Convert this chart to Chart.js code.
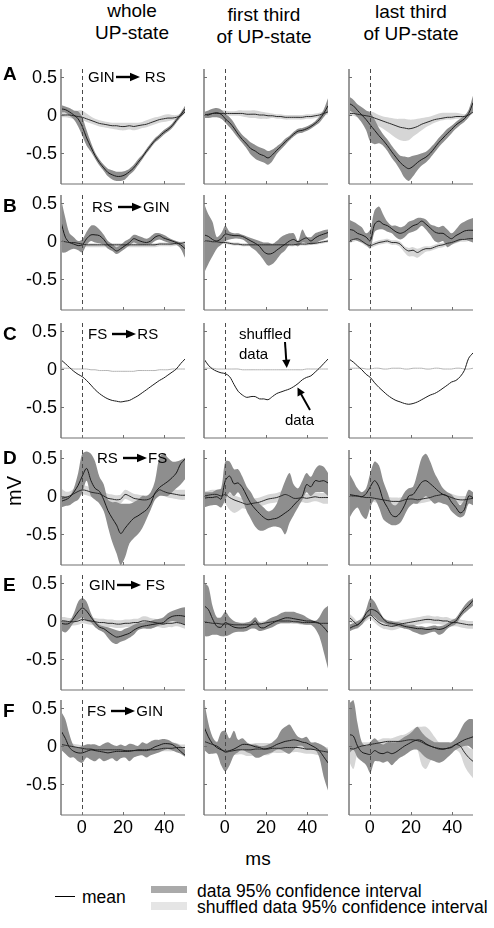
<!DOCTYPE html>
<html>
<head>
<meta charset="utf-8">
<script src="https://cdn.jsdelivr.net/npm/chart.js@4/dist/chart.umd.min.js"></script>
<style>
  html, body { margin:0; padding:0; background:#fff; }
  body { width:494px; height:928px; position:relative; overflow:hidden; font-family:"Liberation Sans", Arial, sans-serif; color:#000; }
  canvas { position:absolute; }
  .t { position:absolute; white-space:nowrap; z-index:5; }
  .hdr { font-size:19px; line-height:22px; text-align:center; transform:translateX(-50%); }
  .let { font-size:19px; font-weight:bold; line-height:22px; }
  .pair { font-size:15px; line-height:18px; }
  .pair svg { vertical-align:middle; margin:0 1px 2px 1px; }
  .leg { font-size:17.5px; line-height:20px; }
</style>
</head>
<body>
<script>
// ---------- categories / ticks ----------
const timeMs = [-10,-7.9,-5.9,-3.8,-1.7,0.3,2.4,4.5,6.5,8.6,10.7,12.7,14.8,16.9,18.9,21.0,23.1,25.2,27.2,29.3,31.4,33.4,35.5,37.6,39.6,41.7,43.8,45.8,47.9,50.0];
const xTicks = [0, 20, 40];
const yTicks = [0.5, 0, -0.5];
const yTickLabels = ['0.5', '0', '-0.5'];
const rowLetters = ['A','B','C','D','E','F'];
const pairFrom = ['GIN','RS','FS','RS','GIN','FS'];
const pairTo = ['RS','GIN','RS','FS','FS','GIN'];
const colTitles = [['whole','UP-state'],['first third','of UP-state'],['last third','of UP-state']];

// ---------- Row A: GIN -> RS ----------
const A1_mean = [0.08,0.07,0.04,0.0,-0.05,-0.15,-0.3,-0.42,-0.53,-0.62,-0.69,-0.75,-0.78,-0.8,-0.8,-0.78,-0.74,-0.69,-0.62,-0.55,-0.47,-0.4,-0.33,-0.28,-0.23,-0.19,-0.14,-0.07,0.0,0.08];
const A1_hi = [0.13,0.11,0.09,0.06,0.05,-0.03,-0.2,-0.36,-0.49,-0.58,-0.65,-0.7,-0.72,-0.74,-0.74,-0.73,-0.7,-0.65,-0.58,-0.52,-0.44,-0.37,-0.3,-0.25,-0.2,-0.16,-0.11,-0.04,0.03,0.12];
const A1_lo = [0.03,0.03,-0.01,-0.06,-0.15,-0.27,-0.4,-0.48,-0.57,-0.66,-0.73,-0.8,-0.84,-0.86,-0.86,-0.84,-0.78,-0.73,-0.66,-0.58,-0.5,-0.43,-0.36,-0.31,-0.26,-0.22,-0.17,-0.1,-0.03,0.04];
const A1_shuf = [0.0,0.0,0.0,-0.01,-0.02,-0.03,-0.05,-0.07,-0.09,-0.11,-0.12,-0.13,-0.14,-0.14,-0.15,-0.15,-0.14,-0.15,-0.14,-0.13,-0.12,-0.1,-0.08,-0.06,-0.05,-0.04,-0.04,-0.03,-0.01,0.04];
const A1_shufHi = [0.03,0.03,0.04,0.04,0.06,0.06,0.02,-0.02,-0.05,-0.07,-0.08,-0.09,-0.1,-0.1,-0.1,-0.1,-0.1,-0.1,-0.1,-0.09,-0.07,-0.05,-0.03,-0.02,0.0,0.01,0.0,0.0,0.02,0.06];
const A1_shufLo = [-0.03,-0.03,-0.04,-0.05,-0.06,-0.07,-0.09,-0.11,-0.13,-0.15,-0.16,-0.17,-0.18,-0.19,-0.2,-0.2,-0.19,-0.2,-0.19,-0.17,-0.16,-0.14,-0.12,-0.1,-0.09,-0.08,-0.07,-0.06,-0.03,0.02];

const A2_mean = [0.0,0.0,0.02,0.03,0.01,-0.05,-0.1,-0.17,-0.25,-0.32,-0.38,-0.44,-0.47,-0.51,-0.53,-0.56,-0.52,-0.46,-0.41,-0.35,-0.3,-0.25,-0.21,-0.2,-0.18,-0.15,-0.11,-0.06,0.02,0.12];
const A2_hi = [0.04,0.06,0.08,0.09,0.07,0.02,-0.03,-0.1,-0.19,-0.26,-0.31,-0.36,-0.39,-0.42,-0.44,-0.47,-0.45,-0.41,-0.37,-0.31,-0.27,-0.22,-0.18,-0.17,-0.15,-0.12,-0.08,-0.02,0.07,0.22];
const A2_lo = [-0.04,-0.04,-0.03,-0.03,-0.05,-0.1,-0.16,-0.23,-0.3,-0.37,-0.44,-0.52,-0.57,-0.6,-0.62,-0.65,-0.6,-0.51,-0.45,-0.39,-0.33,-0.28,-0.24,-0.23,-0.21,-0.18,-0.14,-0.1,-0.03,0.05];
const A2_shuf = [0.0,0.01,0.02,0.02,0.02,0.02,0.02,0.02,0.02,0.02,0.01,0.01,0.01,0.0,0.0,-0.01,-0.01,-0.02,-0.02,-0.03,-0.03,-0.03,-0.03,-0.03,-0.02,-0.02,-0.01,0.0,0.02,0.04];
const A2_shufHi = [0.03,0.04,0.05,0.05,0.06,0.06,0.05,0.05,0.06,0.06,0.06,0.06,0.06,0.05,0.04,0.03,0.02,0.01,0.01,0.0,0.0,0.0,0.0,0.0,0.01,0.01,0.02,0.03,0.05,0.07];
const A2_shufLo = [-0.03,-0.02,-0.01,-0.01,-0.01,-0.01,-0.01,-0.01,-0.01,-0.02,-0.03,-0.04,-0.04,-0.05,-0.05,-0.05,-0.04,-0.05,-0.05,-0.06,-0.06,-0.06,-0.06,-0.06,-0.05,-0.05,-0.04,-0.03,-0.01,0.01];

const A3_mean = [0.15,0.12,0.06,0.0,-0.06,-0.13,-0.2,-0.27,-0.33,-0.4,-0.48,-0.55,-0.62,-0.67,-0.7,-0.67,-0.62,-0.58,-0.55,-0.5,-0.43,-0.36,-0.3,-0.24,-0.19,-0.13,-0.09,-0.05,0.02,0.16];
const A3_hi = [0.24,0.2,0.14,0.1,0.06,0.03,-0.06,-0.17,-0.25,-0.32,-0.4,-0.47,-0.53,-0.54,-0.55,-0.53,-0.52,-0.5,-0.48,-0.43,-0.37,-0.3,-0.24,-0.18,-0.14,-0.09,-0.05,-0.01,0.07,0.25];
const A3_lo = [0.06,0.03,-0.03,-0.1,-0.2,-0.35,-0.38,-0.37,-0.4,-0.47,-0.56,-0.63,-0.72,-0.82,-0.86,-0.8,-0.72,-0.66,-0.62,-0.56,-0.49,-0.42,-0.36,-0.3,-0.24,-0.18,-0.13,-0.09,-0.03,0.06];
const A3_shuf = [0.02,0.02,0.01,0.0,-0.01,-0.02,-0.04,-0.06,-0.08,-0.1,-0.12,-0.14,-0.16,-0.17,-0.18,-0.17,-0.15,-0.12,-0.1,-0.08,-0.06,-0.05,-0.04,-0.03,-0.03,-0.02,-0.02,-0.02,0.0,0.04];
const A3_shufHi = [0.05,0.05,0.05,0.05,0.05,0.05,0.03,0.0,-0.02,-0.03,-0.04,-0.05,-0.05,-0.05,-0.06,-0.06,-0.05,-0.04,-0.03,-0.02,0.0,0.02,0.03,0.03,0.03,0.03,0.02,0.01,0.02,0.06];
const A3_shufLo = [-0.01,-0.01,-0.03,-0.05,-0.07,-0.09,-0.12,-0.15,-0.18,-0.22,-0.26,-0.3,-0.33,-0.34,-0.33,-0.28,-0.24,-0.2,-0.16,-0.13,-0.1,-0.08,-0.07,-0.06,-0.06,-0.05,-0.05,-0.04,-0.02,0.02];

// ---------- Row B: RS -> GIN ----------
const B1_mean = [0.25,0.05,-0.02,-0.04,-0.06,-0.05,0.03,0.08,0.08,0.07,0.02,-0.05,-0.09,-0.13,-0.1,-0.06,-0.02,0.03,0.01,-0.01,-0.02,0.0,0.05,0.07,0.04,0.02,0.0,-0.02,-0.05,-0.1];
const B1_hi = [0.55,0.3,0.1,0.05,0.0,0.02,0.12,0.2,0.2,0.15,0.08,0.0,-0.04,-0.08,-0.05,0.0,0.03,0.08,0.07,0.05,0.03,0.06,0.1,0.1,0.08,0.05,0.02,0.0,-0.02,-0.05];
const B1_lo = [-0.15,-0.15,-0.12,-0.1,-0.12,-0.15,-0.05,0.0,-0.02,-0.03,-0.05,-0.1,-0.13,-0.17,-0.14,-0.1,-0.06,-0.02,-0.04,-0.05,-0.05,-0.04,0.0,0.02,0.0,-0.02,-0.04,-0.05,-0.1,-0.22];
const B1_shuf = [0.0,-0.01,-0.02,-0.02,-0.03,-0.04,-0.05,-0.05,-0.05,-0.05,-0.05,-0.05,-0.05,-0.05,-0.05,-0.05,-0.05,-0.05,-0.05,-0.05,-0.05,-0.05,-0.05,-0.04,-0.04,-0.04,-0.04,-0.03,-0.03,-0.02];
const B1_shufHi = [0.02,0.01,0.0,0.0,-0.01,-0.02,-0.03,-0.03,-0.03,-0.03,-0.03,-0.03,-0.03,-0.03,-0.03,-0.03,-0.03,-0.03,-0.03,-0.03,-0.03,-0.03,-0.03,-0.02,-0.02,-0.02,-0.02,-0.01,-0.01,0.0];
const B1_shufLo = [-0.03,-0.04,-0.05,-0.05,-0.06,-0.07,-0.08,-0.08,-0.08,-0.08,-0.08,-0.08,-0.08,-0.08,-0.08,-0.08,-0.08,-0.08,-0.08,-0.08,-0.08,-0.08,-0.08,-0.07,-0.07,-0.07,-0.07,-0.06,-0.06,-0.05];

const B2_mean = [0.08,0.06,0.02,0.0,0.03,0.09,0.08,0.07,0.07,0.06,0.03,0.0,-0.03,-0.07,-0.14,-0.17,-0.16,-0.12,-0.08,-0.04,0.0,0.02,-0.01,0.02,0.04,0.0,0.04,0.07,0.09,0.11];
const B2_hi = [0.49,0.35,0.25,0.05,0.1,0.2,0.12,0.1,0.1,0.08,0.06,0.04,0.02,0.0,-0.02,-0.02,-0.04,0.0,0.05,0.08,0.1,0.1,0.0,0.15,0.06,0.05,0.1,0.12,0.14,0.15];
const B2_lo = [-0.42,-0.3,-0.2,-0.1,-0.05,0.0,0.02,0.03,0.03,0.02,-0.02,-0.08,-0.12,-0.18,-0.25,-0.32,-0.3,-0.24,-0.17,-0.12,-0.05,-0.05,-0.07,-0.02,-0.03,-0.05,-0.03,0.0,0.02,0.05];
const B2_shuf = [0.0,0.0,-0.01,-0.01,-0.02,-0.02,-0.03,-0.04,-0.04,-0.05,-0.05,-0.05,-0.05,-0.05,-0.05,-0.05,-0.05,-0.05,-0.05,-0.05,-0.05,-0.05,-0.04,-0.04,-0.04,-0.03,-0.03,-0.02,-0.01,0.0];
const B2_shufHi = [0.02,0.02,0.01,0.01,0.0,0.0,-0.01,-0.02,-0.02,-0.03,-0.03,-0.03,-0.03,-0.03,-0.03,-0.03,-0.03,-0.03,-0.02,-0.02,-0.03,-0.03,-0.02,-0.02,-0.02,-0.01,-0.01,0.0,0.01,0.02];
const B2_shufLo = [-0.02,-0.02,-0.03,-0.03,-0.04,-0.04,-0.05,-0.06,-0.06,-0.07,-0.07,-0.07,-0.08,-0.08,-0.08,-0.08,-0.08,-0.07,-0.07,-0.07,-0.07,-0.07,-0.06,-0.06,-0.06,-0.05,-0.05,-0.04,-0.03,-0.02];

const B3_mean = [0.15,0.14,0.1,0.08,0.05,0.0,0.22,0.26,0.22,0.2,0.16,0.12,0.1,0.12,0.16,0.2,0.22,0.26,0.22,0.17,0.12,0.1,0.1,0.06,0.03,0.07,0.1,0.13,0.14,0.14];
const B3_hi = [0.28,0.25,0.22,0.18,0.1,0.15,0.4,0.45,0.35,0.25,0.2,0.2,0.18,0.2,0.25,0.27,0.3,0.3,0.28,0.22,0.2,0.18,0.2,0.15,0.1,0.15,0.22,0.25,0.28,0.3];
const B3_lo = [0.0,0.02,0.0,-0.02,-0.05,-0.1,0.12,0.15,0.15,0.12,0.1,0.05,0.02,0.05,0.1,0.12,0.15,0.2,0.15,0.08,0.0,-0.02,0.0,-0.08,-0.05,-0.02,0.0,0.02,0.0,-0.02];
const B3_shuf = [0.0,0.02,0.03,0.0,-0.04,-0.06,-0.04,-0.02,-0.01,0.0,-0.02,-0.02,-0.04,-0.1,-0.13,-0.12,-0.15,-0.12,-0.1,-0.1,-0.08,-0.06,-0.05,-0.03,-0.02,0.0,0.02,0.02,0.03,0.03];
const B3_shufHi = [0.03,0.05,0.06,0.03,-0.01,-0.03,-0.01,0.01,0.02,0.03,0.01,0.01,-0.01,-0.07,-0.09,-0.08,-0.1,-0.08,-0.07,-0.07,-0.05,-0.03,-0.02,0.0,0.01,0.03,0.05,0.05,0.06,0.06];
const B3_shufLo = [-0.03,-0.01,0.0,-0.03,-0.07,-0.09,-0.07,-0.05,-0.04,-0.03,-0.05,-0.05,-0.08,-0.15,-0.2,-0.2,-0.22,-0.18,-0.14,-0.13,-0.11,-0.09,-0.08,-0.06,-0.05,-0.03,-0.01,-0.01,0.0,0.0];

// ---------- Row C: FS -> RS (means only) ----------
const C1_mean = [0.12,0.07,0.02,-0.03,-0.07,-0.1,-0.15,-0.21,-0.27,-0.32,-0.36,-0.39,-0.41,-0.42,-0.43,-0.42,-0.41,-0.38,-0.35,-0.31,-0.27,-0.23,-0.19,-0.15,-0.12,-0.08,-0.04,0.0,0.07,0.13];
const C1_shuf = [0.01,0.01,0.01,0.0,0.0,0.0,0.0,-0.01,-0.01,-0.02,-0.02,-0.02,-0.03,-0.03,-0.03,-0.03,-0.03,-0.03,-0.02,-0.02,-0.02,-0.02,-0.02,-0.01,-0.01,-0.01,0.0,0.0,0.0,0.0];
const C2_mean = [0.13,0.05,0.0,-0.03,-0.05,-0.06,-0.1,-0.2,-0.29,-0.34,-0.37,-0.36,-0.36,-0.39,-0.39,-0.4,-0.36,-0.32,-0.3,-0.28,-0.26,-0.23,-0.19,-0.14,-0.11,-0.09,-0.04,0.01,0.07,0.13];
const C2_shuf = [0.01,0.01,0.01,0.0,0.0,0.0,0.0,0.0,0.0,-0.01,-0.01,-0.01,-0.01,-0.01,-0.01,-0.01,-0.01,-0.01,-0.01,-0.01,-0.01,-0.01,-0.01,-0.01,0.0,0.0,0.0,0.0,0.0,0.0];
const C3_mean = [0.13,0.09,0.04,-0.01,-0.07,-0.11,-0.18,-0.24,-0.29,-0.34,-0.38,-0.41,-0.43,-0.45,-0.46,-0.45,-0.43,-0.4,-0.37,-0.34,-0.32,-0.29,-0.25,-0.21,-0.17,-0.15,-0.1,-0.02,0.14,0.21];
const C3_shuf = [0.01,0.01,0.01,0.01,0.0,0.0,0.01,0.01,0.0,0.0,0.01,0.01,0.01,0.0,0.0,0.01,0.01,0.01,0.0,0.0,0.01,0.01,0.0,0.0,0.0,0.01,0.01,0.0,0.0,0.01];

// ---------- Row D: RS -> FS ----------
const D1_mean = [-0.07,-0.05,-0.02,0.05,0.14,0.26,0.36,0.2,0.1,0.06,-0.05,-0.19,-0.29,-0.38,-0.49,-0.42,-0.35,-0.29,-0.26,-0.22,-0.18,-0.1,0.04,0.11,0.15,0.19,0.24,0.3,0.42,0.48];
const D1_hi = [0.0,0.0,0.0,0.1,0.3,0.55,0.58,0.55,0.45,0.25,0.15,-0.05,-0.08,-0.08,-0.1,-0.1,-0.1,-0.08,-0.05,0.0,0.0,0.05,0.2,0.5,0.55,0.5,0.45,0.45,0.47,0.5];
const D1_lo = [-0.15,-0.13,-0.12,-0.08,-0.05,0.05,0.2,0.0,-0.05,-0.1,-0.2,-0.4,-0.6,-0.75,-0.9,-0.8,-0.62,-0.55,-0.5,-0.42,-0.3,-0.18,-0.05,0.0,0.0,0.0,0.05,0.1,0.15,0.22];
const D1_shuf = [-0.03,-0.02,0.0,0.03,0.06,0.08,0.07,0.05,0.04,0.03,0.0,-0.03,-0.04,-0.05,-0.04,0.02,0.0,-0.03,-0.04,-0.05,-0.05,-0.03,0.03,0.08,0.06,0.04,0.03,0.02,0.01,0.01];
const D1_shufHi = [0.1,0.06,0.06,0.09,0.12,0.14,0.13,0.11,0.1,0.09,0.06,0.03,0.02,0.01,0.02,0.08,0.06,0.03,0.02,0.01,0.01,0.03,0.09,0.14,0.12,0.1,0.09,0.08,0.08,0.08];
const D1_shufLo = [-0.1,-0.08,-0.06,-0.03,0.0,0.02,0.01,-0.01,-0.02,-0.03,-0.06,-0.09,-0.1,-0.11,-0.1,-0.04,-0.06,-0.09,-0.1,-0.11,-0.11,-0.09,-0.03,0.02,0.0,-0.02,-0.03,-0.04,-0.05,-0.05];

const D2_mean = [-0.03,-0.02,-0.02,-0.01,-0.04,0.2,0.26,0.16,0.17,0.11,0.0,-0.1,-0.17,-0.23,-0.28,-0.31,-0.3,-0.29,-0.26,-0.22,-0.18,-0.12,-0.06,0.0,0.15,0.12,0.2,0.19,0.2,0.17];
const D2_hi = [0.05,0.05,0.05,0.08,0.1,0.45,0.45,0.35,0.35,0.25,0.12,0.05,-0.05,-0.1,-0.15,-0.2,-0.18,-0.1,0.05,0.2,0.3,0.15,0.1,0.2,0.3,0.25,0.35,0.4,0.38,0.3];
const D2_lo = [-0.15,-0.13,-0.12,-0.12,-0.15,-0.05,0.05,0.0,0.05,-0.05,-0.2,-0.3,-0.4,-0.45,-0.45,-0.42,-0.4,-0.4,-0.42,-0.5,-0.35,-0.25,-0.15,-0.05,0.05,0.0,0.05,0.05,0.05,0.0];
const D2_shuf = [0.0,0.01,0.02,0.02,0.0,0.02,-0.02,-0.05,-0.07,-0.09,-0.11,-0.1,-0.09,-0.08,-0.06,-0.04,-0.03,-0.02,0.0,0.02,0.0,-0.03,-0.03,-0.02,-0.03,-0.02,-0.01,-0.02,-0.02,-0.02];
const D2_shufHi = [0.06,0.07,0.08,0.08,0.06,0.08,0.04,0.01,-0.01,-0.03,-0.05,-0.04,-0.03,-0.02,0.0,0.02,0.03,0.04,0.06,0.08,0.06,0.03,0.03,0.04,0.03,0.04,0.05,0.04,0.04,0.04];
const D2_shufLo = [-0.06,-0.05,-0.04,-0.04,-0.08,-0.1,-0.18,-0.22,-0.2,-0.16,-0.17,-0.16,-0.15,-0.14,-0.12,-0.1,-0.09,-0.08,-0.06,-0.04,-0.06,-0.09,-0.09,-0.08,-0.09,-0.08,-0.07,-0.08,-0.1,-0.1];

const D3_mean = [0.02,0.01,0.0,-0.01,0.03,0.12,0.2,0.12,-0.05,-0.15,-0.25,-0.27,-0.22,-0.12,0.0,0.02,0.1,0.18,0.2,0.16,0.11,0.06,0.02,0.0,-0.08,-0.15,-0.22,-0.18,0.0,-0.02];
const D3_hi = [0.3,0.2,0.1,0.05,0.1,0.3,0.45,0.4,0.2,0.05,-0.1,-0.12,-0.05,0.05,0.1,0.12,0.3,0.5,0.55,0.45,0.3,0.2,0.1,0.05,0.02,-0.05,-0.12,-0.05,0.08,0.05];
const D3_lo = [-0.3,-0.2,-0.15,-0.25,-0.3,-0.15,-0.05,-0.15,-0.3,-0.35,-0.38,-0.38,-0.35,-0.25,-0.15,-0.1,-0.1,-0.05,0.0,-0.05,-0.1,-0.08,-0.1,-0.12,-0.2,-0.25,-0.28,-0.25,-0.1,-0.12];
const D3_shuf = [0.0,0.0,0.0,-0.01,-0.02,-0.02,-0.03,-0.04,-0.05,-0.06,-0.07,-0.07,-0.07,-0.05,-0.04,-0.04,-0.05,-0.04,-0.03,-0.02,0.0,0.01,0.02,0.0,-0.02,-0.04,-0.05,-0.05,-0.04,-0.03];
const D3_shufHi = [0.05,0.05,0.05,0.04,0.03,0.03,0.02,0.01,0.0,-0.01,-0.02,-0.02,-0.02,0.0,0.01,0.01,0.0,0.01,0.02,0.03,0.05,0.06,0.07,0.05,0.03,0.01,0.0,0.0,0.01,0.02];
const D3_shufLo = [-0.05,-0.05,-0.05,-0.06,-0.07,-0.07,-0.08,-0.09,-0.1,-0.11,-0.12,-0.12,-0.12,-0.1,-0.09,-0.09,-0.1,-0.09,-0.08,-0.07,-0.05,-0.04,-0.03,-0.05,-0.07,-0.09,-0.1,-0.1,-0.09,-0.08];

// ---------- Row E: GIN -> FS ----------
const E1_mean = [-0.03,-0.04,-0.03,0.04,0.12,0.17,0.13,0.05,-0.02,-0.08,-0.1,-0.14,-0.18,-0.21,-0.2,-0.18,-0.16,-0.12,-0.09,-0.07,-0.06,-0.05,-0.04,-0.03,-0.02,0.03,0.06,0.07,0.07,0.06];
const E1_hi = [0.02,0.0,0.0,0.1,0.25,0.3,0.25,0.1,0.0,-0.05,-0.07,-0.08,-0.1,-0.12,-0.13,-0.1,-0.08,-0.05,-0.03,-0.02,-0.01,0.0,0.02,0.03,0.05,0.1,0.13,0.15,0.17,0.18];
const E1_lo = [-0.12,-0.15,-0.1,-0.02,0.02,0.05,0.0,-0.02,-0.08,-0.12,-0.15,-0.22,-0.28,-0.3,-0.27,-0.25,-0.22,-0.18,-0.12,-0.1,-0.1,-0.1,-0.08,-0.06,-0.05,-0.02,0.0,-0.01,-0.03,-0.05];
const E1_shuf = [0.0,0.0,-0.01,-0.01,0.0,0.02,0.01,0.0,-0.01,-0.02,-0.02,-0.03,-0.03,-0.04,-0.04,-0.03,-0.03,-0.02,-0.02,0.0,0.0,-0.01,-0.02,-0.03,-0.04,-0.03,-0.03,-0.02,-0.03,-0.05];
const E1_shufHi = [0.05,0.05,0.04,0.04,0.05,0.07,0.06,0.05,0.04,0.03,0.03,0.02,0.02,0.01,0.01,0.02,0.02,0.03,0.03,0.06,0.06,0.04,0.03,0.02,0.01,0.02,0.03,0.04,0.03,0.01];
const E1_shufLo = [-0.05,-0.05,-0.06,-0.06,-0.05,-0.03,-0.04,-0.05,-0.06,-0.07,-0.07,-0.08,-0.08,-0.09,-0.09,-0.08,-0.08,-0.07,-0.07,-0.05,-0.05,-0.06,-0.07,-0.08,-0.09,-0.08,-0.08,-0.07,-0.08,-0.1];

const E2_mean = [0.2,0.15,0.03,-0.07,-0.08,-0.02,-0.05,-0.08,-0.09,-0.09,-0.08,-0.05,0.0,-0.08,-0.09,-0.06,-0.03,0.0,0.02,0.04,0.04,0.03,0.02,0.01,0.0,0.0,-0.01,-0.03,-0.08,-0.15];
const E2_hi = [0.5,0.45,0.2,0.05,0.05,0.12,0.05,0.0,-0.02,-0.03,-0.02,0.0,0.05,-0.02,-0.02,0.02,0.05,0.07,0.1,0.12,0.12,0.12,0.1,0.08,0.05,0.02,0.0,0.05,0.15,0.2];
const E2_lo = [-0.2,-0.2,-0.18,-0.18,-0.2,-0.2,-0.18,-0.15,-0.14,-0.14,-0.13,-0.1,-0.1,-0.13,-0.12,-0.1,-0.08,-0.05,-0.03,-0.03,-0.03,-0.02,-0.03,-0.04,-0.05,-0.05,-0.1,-0.2,-0.4,-0.62];
const E2_shuf = [-0.02,-0.02,-0.03,-0.03,-0.04,-0.04,-0.04,-0.05,-0.05,-0.05,-0.05,-0.05,-0.04,-0.04,-0.03,-0.02,-0.01,0.0,0.0,0.0,0.0,-0.01,-0.01,-0.02,-0.02,-0.02,-0.02,-0.03,-0.03,-0.03];
const E2_shufHi = [0.01,0.01,0.0,0.0,-0.01,-0.01,-0.01,-0.02,-0.02,-0.02,-0.02,-0.02,-0.01,-0.01,0.0,0.01,0.02,0.03,0.04,0.04,0.03,0.02,0.02,0.01,0.01,0.01,0.01,0.0,0.0,0.0];
const E2_shufLo = [-0.05,-0.05,-0.06,-0.06,-0.07,-0.07,-0.07,-0.08,-0.08,-0.08,-0.08,-0.08,-0.07,-0.07,-0.06,-0.05,-0.04,-0.03,-0.03,-0.03,-0.03,-0.04,-0.04,-0.05,-0.05,-0.05,-0.05,-0.06,-0.06,-0.06];

const E3_mean = [-0.1,-0.07,-0.05,0.0,0.1,0.15,0.14,0.1,0.03,-0.02,-0.03,-0.04,-0.05,-0.07,-0.08,-0.09,-0.1,-0.1,-0.11,-0.11,-0.1,-0.11,-0.1,-0.07,-0.03,0.0,0.08,0.15,0.2,0.27];
const E3_hi = [-0.05,-0.03,0.0,0.03,0.15,0.3,0.25,0.14,0.05,0.01,0.0,-0.01,-0.02,-0.04,-0.05,-0.05,-0.07,-0.07,-0.08,-0.07,-0.06,-0.07,-0.06,-0.03,0.01,0.04,0.12,0.2,0.26,0.3];
const E3_lo = [-0.14,-0.11,-0.09,-0.05,0.03,0.07,0.05,0.0,-0.02,-0.05,-0.06,-0.07,-0.08,-0.1,-0.11,-0.14,-0.16,-0.18,-0.17,-0.15,-0.14,-0.18,-0.16,-0.1,-0.07,-0.04,0.04,0.1,0.15,0.2];
const E3_shuf = [0.05,0.0,-0.05,0.0,0.05,0.08,0.03,-0.02,-0.05,-0.06,-0.07,-0.06,-0.04,-0.03,-0.02,-0.01,0.0,0.01,0.02,0.02,0.01,0.01,0.0,0.0,-0.02,-0.02,-0.03,-0.04,-0.05,-0.05];
const E3_shufHi = [0.1,0.05,0.0,0.05,0.1,0.13,0.08,0.03,0.0,-0.01,-0.02,-0.01,0.01,0.02,0.03,0.04,0.05,0.06,0.07,0.07,0.06,0.06,0.05,0.05,0.03,0.03,0.02,0.01,0.0,0.0];
const E3_shufLo = [0.0,-0.05,-0.1,-0.05,0.0,0.03,-0.02,-0.07,-0.1,-0.11,-0.12,-0.11,-0.09,-0.08,-0.07,-0.06,-0.05,-0.04,-0.03,-0.03,-0.04,-0.04,-0.05,-0.05,-0.07,-0.07,-0.08,-0.09,-0.1,-0.1];

// ---------- Row F: FS -> GIN ----------
const F1_mean = [0.2,0.1,-0.02,-0.07,-0.09,-0.09,-0.07,-0.05,-0.06,-0.07,-0.08,-0.09,-0.08,-0.07,-0.07,-0.07,-0.07,-0.06,-0.05,-0.05,-0.05,-0.04,-0.01,0.01,0.03,0.03,0.02,-0.02,-0.07,-0.12];
const F1_hi = [0.45,0.35,0.15,0.0,-0.02,0.0,0.02,0.02,0.02,0.0,0.03,0.05,0.02,0.0,0.02,0.0,0.03,0.02,0.0,0.05,0.03,0.06,0.08,0.08,0.09,0.08,0.05,0.03,0.0,-0.05];
const F1_lo = [-0.05,-0.1,-0.15,-0.15,-0.2,-0.22,-0.15,-0.18,-0.2,-0.16,-0.2,-0.18,-0.16,-0.2,-0.16,-0.15,-0.2,-0.15,-0.13,-0.12,-0.15,-0.12,-0.1,-0.08,-0.06,-0.04,-0.06,-0.08,-0.1,-0.14];
const F1_shuf = [0.02,0.01,0.0,-0.01,-0.02,-0.03,-0.04,-0.04,-0.05,-0.05,-0.05,-0.05,-0.05,-0.05,-0.05,-0.06,-0.06,-0.06,-0.06,-0.06,-0.06,-0.05,-0.05,-0.04,-0.03,-0.03,-0.03,-0.02,-0.02,-0.02];
const F1_shufHi = [0.06,0.05,0.04,0.03,0.02,0.01,0.0,0.0,-0.01,-0.01,-0.01,-0.01,-0.01,-0.01,-0.01,-0.02,-0.02,-0.02,-0.02,-0.02,-0.02,-0.01,0.0,0.02,0.04,0.04,0.04,0.04,0.02,0.02];
const F1_shufLo = [-0.02,-0.03,-0.04,-0.05,-0.06,-0.07,-0.08,-0.08,-0.09,-0.09,-0.09,-0.09,-0.09,-0.09,-0.09,-0.1,-0.1,-0.1,-0.1,-0.1,-0.1,-0.09,-0.09,-0.08,-0.07,-0.07,-0.07,-0.06,-0.06,-0.06];

const F2_mean = [0.25,0.12,0.03,-0.02,-0.05,-0.07,-0.06,-0.04,-0.01,0.02,0.02,0.01,-0.01,-0.02,-0.04,-0.03,-0.01,0.02,0.04,0.06,0.07,0.08,0.07,0.05,0.04,0.01,-0.02,-0.06,-0.14,-0.22];
const F2_hi = [0.6,0.3,0.12,0.05,0.18,0.2,0.1,0.2,0.08,0.1,0.05,0.02,0.02,0.0,0.0,0.02,0.05,0.1,0.2,0.25,0.28,0.2,0.12,0.1,0.12,0.05,0.05,0.03,0.0,-0.05];
const F2_lo = [-0.05,-0.1,-0.1,-0.1,-0.25,-0.33,-0.25,-0.12,-0.08,-0.05,-0.08,-0.1,-0.15,-0.15,-0.12,-0.1,-0.08,-0.05,-0.05,-0.08,-0.1,-0.05,0.0,0.0,-0.05,-0.05,-0.05,-0.15,-0.4,-0.58];
const F2_shuf = [0.06,0.04,0.02,0.0,-0.04,-0.08,-0.07,-0.06,-0.05,-0.05,-0.05,-0.05,-0.04,-0.04,-0.04,-0.04,-0.03,-0.03,-0.03,-0.02,-0.02,-0.02,-0.02,-0.03,-0.04,-0.04,-0.05,-0.06,-0.07,-0.08];
const F2_shufHi = [0.12,0.1,0.08,0.06,0.02,-0.02,-0.01,0.0,0.01,0.01,0.03,0.03,0.04,0.04,0.04,0.04,0.03,0.03,0.03,0.04,0.04,0.04,0.04,0.03,0.02,0.02,0.01,0.0,-0.01,-0.02];
const F2_shufLo = [0.0,-0.02,-0.04,-0.06,-0.1,-0.14,-0.13,-0.12,-0.11,-0.11,-0.13,-0.13,-0.12,-0.12,-0.12,-0.12,-0.09,-0.09,-0.09,-0.08,-0.08,-0.08,-0.08,-0.09,-0.1,-0.1,-0.11,-0.12,-0.13,-0.14];

const F3_mean = [0.15,0.13,0.0,-0.08,-0.1,-0.11,-0.06,-0.09,-0.1,-0.08,-0.1,-0.08,-0.04,0.0,0.03,0.06,0.08,0.07,0.03,0.0,-0.02,-0.03,-0.04,-0.03,-0.02,0.02,0.05,0.08,0.1,0.12];
const F3_hi = [0.55,0.6,0.3,0.05,0.0,0.05,0.1,0.05,0.02,0.05,0.05,0.05,0.08,0.12,0.15,0.2,0.25,0.18,0.12,0.08,0.05,0.05,0.05,0.05,0.05,0.1,0.2,0.3,0.35,0.35];
const F3_lo = [-0.1,-0.05,-0.15,-0.2,-0.25,-0.35,-0.2,-0.2,-0.22,-0.2,-0.25,-0.2,-0.15,-0.12,-0.08,-0.05,-0.05,-0.1,-0.15,-0.18,-0.2,-0.22,-0.2,-0.15,-0.1,-0.05,-0.02,0.0,0.0,-0.05];
const F3_shuf = [-0.03,-0.04,-0.02,0.0,0.01,0.02,0.03,0.04,0.05,0.06,0.06,0.06,0.06,0.07,0.08,0.08,0.07,0.05,0.02,0.0,-0.02,-0.04,-0.04,-0.03,-0.01,0.02,0.0,-0.08,-0.15,-0.2];
const F3_shufHi = [0.15,0.1,0.05,0.05,0.05,0.05,0.06,0.08,0.1,0.1,0.1,0.12,0.14,0.15,0.18,0.22,0.25,0.25,0.25,0.2,0.12,0.05,0.02,0.02,0.05,0.08,0.1,0.05,-0.02,-0.05];
const F3_shufLo = [-0.2,-0.3,-0.1,-0.05,-0.04,-0.05,-0.02,0.0,0.0,0.01,0.0,0.0,-0.01,-0.02,-0.02,0.0,-0.05,-0.25,-0.3,-0.2,-0.12,-0.1,-0.1,-0.08,-0.05,-0.05,-0.1,-0.25,-0.35,-0.42];

// ---------- panel table (built from the arrays above) ----------
const panels = [
  {r:0,c:0,m:A1_mean,lo:A1_lo,hi:A1_hi,s:A1_shuf,slo:A1_shufLo,shi:A1_shufHi},
  {r:0,c:1,m:A2_mean,lo:A2_lo,hi:A2_hi,s:A2_shuf,slo:A2_shufLo,shi:A2_shufHi},
  {r:0,c:2,m:A3_mean,lo:A3_lo,hi:A3_hi,s:A3_shuf,slo:A3_shufLo,shi:A3_shufHi},
  {r:1,c:0,m:B1_mean,lo:B1_lo,hi:B1_hi,s:B1_shuf,slo:B1_shufLo,shi:B1_shufHi},
  {r:1,c:1,m:B2_mean,lo:B2_lo,hi:B2_hi,s:B2_shuf,slo:B2_shufLo,shi:B2_shufHi},
  {r:1,c:2,m:B3_mean,lo:B3_lo,hi:B3_hi,s:B3_shuf,slo:B3_shufLo,shi:B3_shufHi},
  {r:2,c:0,m:C1_mean,s:C1_shuf,meansOnly:true},
  {r:2,c:1,m:C2_mean,s:C2_shuf,meansOnly:true},
  {r:2,c:2,m:C3_mean,s:C3_shuf,meansOnly:true},
  {r:3,c:0,m:D1_mean,lo:D1_lo,hi:D1_hi,s:D1_shuf,slo:D1_shufLo,shi:D1_shufHi},
  {r:3,c:1,m:D2_mean,lo:D2_lo,hi:D2_hi,s:D2_shuf,slo:D2_shufLo,shi:D2_shufHi},
  {r:3,c:2,m:D3_mean,lo:D3_lo,hi:D3_hi,s:D3_shuf,slo:D3_shufLo,shi:D3_shufHi},
  {r:4,c:0,m:E1_mean,lo:E1_lo,hi:E1_hi,s:E1_shuf,slo:E1_shufLo,shi:E1_shufHi},
  {r:4,c:1,m:E2_mean,lo:E2_lo,hi:E2_hi,s:E2_shuf,slo:E2_shufLo,shi:E2_shufHi},
  {r:4,c:2,m:E3_mean,lo:E3_lo,hi:E3_hi,s:E3_shuf,slo:E3_shufLo,shi:E3_shufHi},
  {r:5,c:0,m:F1_mean,lo:F1_lo,hi:F1_hi,s:F1_shuf,slo:F1_shufLo,shi:F1_shufHi},
  {r:5,c:1,m:F2_mean,lo:F2_lo,hi:F2_hi,s:F2_shuf,slo:F2_shufLo,shi:F2_shufHi},
  {r:5,c:2,m:F3_mean,lo:F3_lo,hi:F3_hi,s:F3_shuf,slo:F3_shufLo,shi:F3_shufHi}
];

// ---------- layout / style ----------
const colLeft = [61, 204, 349];
const rowTop = [69, 195, 323, 450, 575, 700];
const plotW = 124, plotH = 115;
const DARK_BAND = '#8e8e8e', LIGHT_BAND = '#d6d6d6';
const FONT = '"Liberation Sans", Arial, sans-serif';

const pts = arr => timeMs.map((x, i) => ({x, y: arr[i]}));

const decor = {
  id: 'decor',
  afterDatasetsDraw(chart, args, o) {
    const {ctx, chartArea: a, scales: {x, y}} = chart;
    ctx.save();
    const x0 = Math.round(x.getPixelForValue(0)) + 0.5;
    ctx.strokeStyle = '#4a4a4a'; ctx.lineWidth = 1; ctx.setLineDash([4, 3]);
    ctx.beginPath(); ctx.moveTo(x0, a.top); ctx.lineTo(x0, a.bottom); ctx.stroke();
    ctx.setLineDash([]);
    ctx.strokeStyle = '#9a9a9a'; ctx.lineWidth = 2;
    ctx.beginPath(); ctx.moveTo(a.left, a.top); ctx.lineTo(a.left, a.bottom); ctx.stroke();
    ctx.strokeStyle = '#707070'; ctx.lineWidth = 1.2;
    ctx.beginPath(); ctx.moveTo(a.left, a.bottom); ctx.lineTo(a.right, a.bottom); ctx.stroke();
    ctx.lineWidth = 1;
    xTicks.forEach(v => { const p = Math.round(x.getPixelForValue(v)) + 0.5;
      ctx.beginPath(); ctx.moveTo(p, a.bottom); ctx.lineTo(p, a.bottom - 3); ctx.stroke(); });
    yTicks.forEach(v => { const p = Math.round(y.getPixelForValue(v)) + 0.5;
      ctx.beginPath(); ctx.moveTo(a.left, p); ctx.lineTo(a.left + 3, p); ctx.stroke(); });
    ctx.fillStyle = '#000';
    if (o.showY) {
      ctx.font = '18px ' + FONT; ctx.textAlign = 'right'; ctx.textBaseline = 'middle';
      yTicks.forEach((v, i) => ctx.fillText(yTickLabels[i], a.left - 4, y.getPixelForValue(v) + 1));
    }
    if (o.showX) {
      ctx.font = '18px ' + FONT; ctx.textAlign = 'center'; ctx.textBaseline = 'top';
      xTicks.forEach(v => ctx.fillText(String(v), x.getPixelForValue(v), a.bottom + 4));
    }
    ctx.restore();
  }
};

panels.forEach(p => {
  const padL = p.c === 0 ? 48 : 6, padR = 6, padT = 6, padB = p.r === 5 ? 28 : 6;
  const cv = document.createElement('canvas');
  cv.width = plotW + padL + padR; cv.height = plotH + padT + padB;
  cv.style.left = (colLeft[p.c] - padL) + 'px';
  cv.style.top = (rowTop[p.r] - padT) + 'px';
  document.body.appendChild(cv);
  const band = (arr, color, fill, order) => ({data: pts(arr), fill: fill, backgroundColor: color,
    borderColor: 'rgba(0,0,0,0)', borderWidth: 0, pointRadius: 0, tension: 0.3, order});
  const ds = [];
  if (!p.meansOnly) {
    ds.push(band(p.shi, LIGHT_BAND, '+1', 5));
    ds.push(band(p.slo, LIGHT_BAND, false, 5));
    ds.push(band(p.hi, DARK_BAND, '+1', 3));
    ds.push(band(p.lo, DARK_BAND, false, 3));
  }
  ds.push({data: pts(p.s), borderColor: p.meansOnly ? '#b4b4b4' : '#2a2a2a', borderWidth: 1,
    pointRadius: 0, fill: false, tension: 0.3, order: 1});
  ds.push({data: pts(p.m), borderColor: '#1a1a1a', borderWidth: 1,
    pointRadius: 0, fill: false, tension: 0.3, order: 0});
  new Chart(cv, {
    type: 'line',
    data: {datasets: ds},
    options: {
      responsive: false, animation: false, devicePixelRatio: 1,
      layout: {padding: {left: padL, right: padR, top: padT, bottom: padB}},
      scales: {
        x: {type: 'linear', min: -10, max: 50, display: false},
        y: {type: 'linear', min: -0.9, max: 0.6, display: false}
      },
      plugins: {legend: {display: false}, tooltip: {enabled: false},
        decor: {showY: p.c === 0, showX: p.r === 5}}
    },
    plugins: [decor]
  });
});

// ---------- text ----------
function addText(cls, html, left, top) {
  const d = document.createElement('div');
  d.className = 't ' + cls; d.innerHTML = html;
  d.style.left = left + 'px'; d.style.top = top + 'px';
  document.body.appendChild(d); return d;
}
const hdrPos = [[132, 0], [264, 4], [411, 1]];
colTitles.forEach((t, i) => addText('hdr', t[0] + '<br>' + t[1], hdrPos[i][0], hdrPos[i][1]));

const letterTop = [63, 195, 323, 447, 574, 700];
rowLetters.forEach((L, i) => addText('let', L, 3, letterTop[i]));

const arrowSvg = '<svg width="24" height="10" viewBox="0 0 24 10"><line x1="0" y1="5" x2="16" y2="5" stroke="#000" stroke-width="2.4"/><polygon points="14,0.8 24,5 14,9.2" fill="#000"/></svg>';
const spaceBefore = [false, true, true, true, false, true];
const spaceAfter = [true, false, false, false, true, false];
const pairPos = [[88, 68], [92, 198], [88, 325], [97, 449], [89, 576], [87, 702]];
pairFrom.forEach((f, i) => addText('pair',
  f + (spaceBefore[i] ? ' ' : '') + arrowSvg + (spaceAfter[i] ? ' ' : '') + pairTo[i],
  pairPos[i][0], pairPos[i][1]));

// axis titles
const mv = addText('', 'mV', 0, 0);
mv.style.cssText += 'font-size:20px;left:14px;top:491px;transform:translate(-50%,-50%) rotate(-90deg);';
const ms = addText('', 'ms', 0, 0);
ms.style.cssText += 'font-size:19px;left:258px;top:859px;transform:translate(-50%,-50%);';

// annotation in C (first third)
addText('pair', 'shuffled', 239, 325);
addText('pair', 'data', 239, 345);
addText('pair', 'data', 285, 411);
const ann = document.createElementNS('http://www.w3.org/2000/svg', 'svg');
ann.setAttribute('width', '494'); ann.setAttribute('height', '928');
ann.style.cssText = 'position:absolute;left:0;top:0;z-index:6;pointer-events:none;';
ann.innerHTML =
  '<line x1="285" y1="342" x2="286.3" y2="361" stroke="#000" stroke-width="2"/>' +
  '<polygon points="282.2,360 290.4,359.5 286.8,368" fill="#000"/>' +
  '<line x1="310" y1="410" x2="301" y2="394" stroke="#000" stroke-width="2"/>' +
  '<polygon points="297.5,387.5 304.8,392.6 297.6,396.5" fill="#000"/>';
document.body.appendChild(ann);

// legend
const l1 = addText('', '', 55, 896); l1.style.cssText += 'width:20px;height:0;border-top:1px solid #000;';
addText('leg', 'mean', 82, 887);
const s1 = addText('', '', 151, 886); s1.style.cssText += 'width:36px;height:7px;background:#aaaaaa;';
addText('leg', 'data 95% confidence interval', 197, 881);
const s2 = addText('', '', 151, 902); s2.style.cssText += 'width:36px;height:8px;background:#e5e5e5;';
addText('leg', 'shuffled data 95% confidence interval', 197, 897);
</script>
</body>
</html>
